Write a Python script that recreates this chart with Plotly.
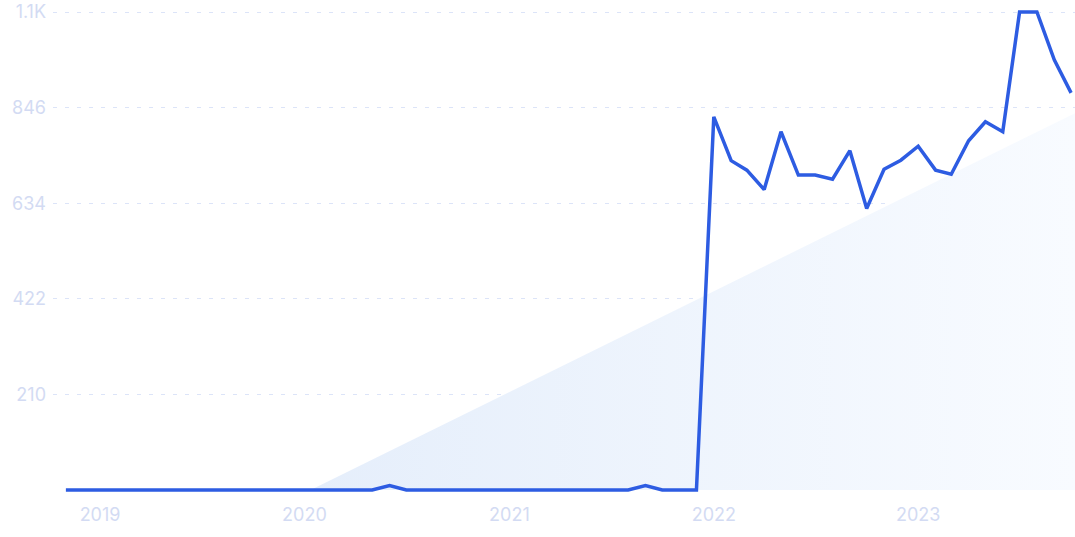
import plotly.graph_objects as go
import pandas as pd

# Monthly values, Nov 2018 .. Oct 2023
months = pd.date_range("2018-11-01", "2023-10-01", freq="MS")
values = (
    [0, 0] +                                   # 2018 Nov-Dec
    [0] * 12 +                                 # 2019
    [0, 0, 0, 0, 0, 10, 0, 0, 0, 0, 0, 0] +    # 2020
    [0, 0, 0, 0, 0, 0, 0, 0, 10, 0, 0, 0] +    # 2021
    [826, 729, 708, 665, 793, 697, 697, 688, 751, 623, 710, 730] +  # 2022
    [761, 708, 699, 773, 815, 793, 1058, 1058, 952, 879]            # 2023
)

# Decorative trend wedge
trend_x = ["2020-01-12", "2023-10-08", "2023-10-08"]
trend_y = [0, 834, 0]

y_tickvals = [211.6, 423.2, 634.8, 846.4, 1058]
y_ticktext = ["210", "422", "634", "846", "1.1K"]
x_tickvals = ["2019-01-01", "2020-01-01", "2021-01-01", "2022-01-01", "2023-01-01"]
x_ticktext = ["2019", "2020", "2021", "2022", "2023"]

label_color = "#d3dbf3"
grid_color = "#dce4f8"

fig = go.Figure()
fig.add_trace(go.Scatter(
    x=trend_x, y=trend_y, mode="none", fill="toself",
    fillgradient=dict(type="horizontal",
                      colorscale=[[0, "#e5eefb"], [1, "#f8fbff"]]),
    hoverinfo="skip",
))
fig.add_trace(go.Scatter(
    x=months, y=values, mode="lines",
    line=dict(color="#2d5ce2", width=3.5),
))

fig.update_layout(
    width=1075, height=537,
    margin=dict(l=53, r=0, t=8, b=43),
    paper_bgcolor="white", plot_bgcolor="white",
    showlegend=False,
    font=dict(family="Inter", size=18, color=label_color),
    xaxis=dict(
        range=["2018-10-09", "2023-10-08"],
        tickvals=x_tickvals, ticktext=x_ticktext,
        showgrid=False, zeroline=False, showline=False, ticks="",
        ticklabelstandoff=8,
        tickfont=dict(size=18, color=label_color),
    ),
    yaxis=dict(
        range=[-8.85, 1066.85],
        tickvals=y_tickvals, ticktext=y_ticktext,
        showgrid=True, gridcolor=grid_color, griddash="4px,8px", gridwidth=1,
        zeroline=False, showline=False, ticks="",
        ticklabelstandoff=6,
        tickfont=dict(size=18, color=label_color),
    ),
)

fig.write_html("out.html", config={"displayModeBar": False})

# remove default page margin so the figure sits at the window origin
with open("out.html", "r", encoding="utf-8") as f:
    html = f.read()
html = html.replace("<head>", "<head><style>html,body{margin:0;padding:0;overflow:hidden;}</style>", 1)
with open("out.html", "w", encoding="utf-8") as f:
    f.write(html)
